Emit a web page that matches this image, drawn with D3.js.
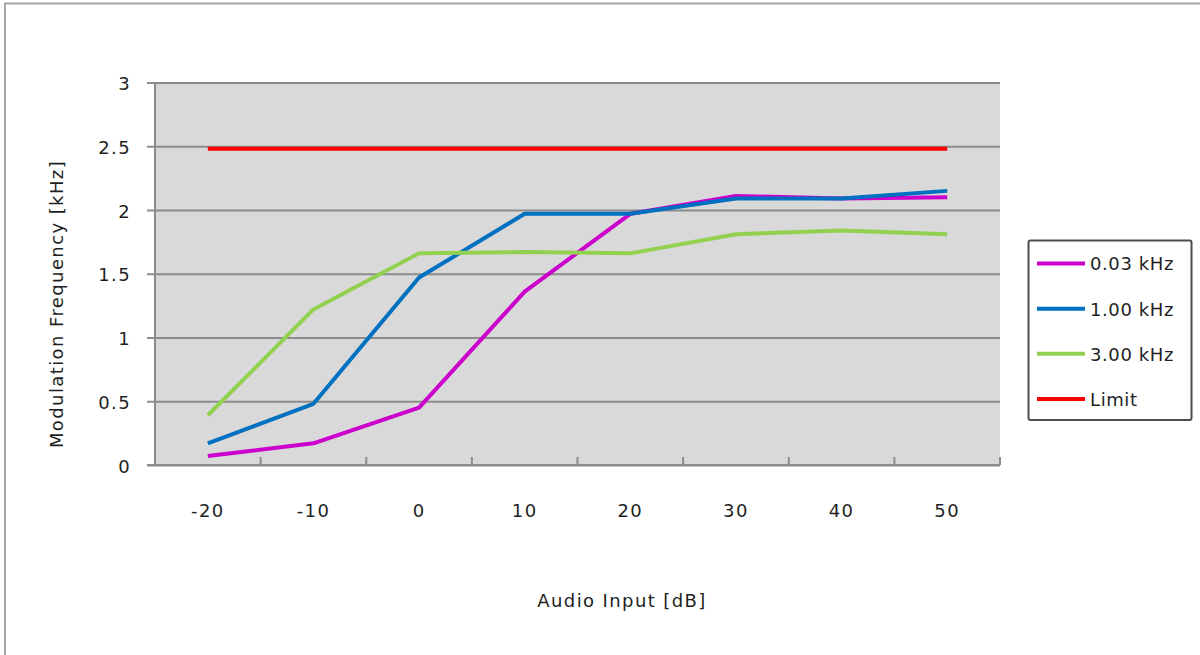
<!DOCTYPE html>
<html>
<head>
<meta charset="utf-8">
<script src="https://cdn.jsdelivr.net/npm/d3@7"></script>
<style>
  html, body { margin: 0; padding: 0; background: #ffffff; }
  svg { display: block; }
  text { font-family: "DejaVu Sans", Verdana, sans-serif; fill: #1f1f1f; }
</style>
</head>
<body>
<svg id="chart" width="1200" height="655"></svg>
<script>
// Audio input levels (dB) along the x axis
const categories = [-20, -10, 0, 10, 20, 30, 40, 50];

// Modulation frequency (kHz) per tone
const tone003 = [0.07, 0.17, 0.45, 1.36, 1.97, 2.11, 2.09, 2.10];
const tone100 = [0.17, 0.48, 1.47, 1.97, 1.97, 2.09, 2.09, 2.15];
const tone300 = [0.39, 1.22, 1.66, 1.67, 1.66, 1.81, 1.84, 1.81];
const limit   = [2.48, 2.48, 2.48, 2.48, 2.48, 2.48, 2.48, 2.48];

const yTicks = [0, 0.5, 1, 1.5, 2, 2.5, 3];

const series = [
  { name: "0.03 kHz", values: tone003, color: "#cc00cc" },
  { name: "1.00 kHz", values: tone100, color: "#0070c0" },
  { name: "3.00 kHz", values: tone300, color: "#92d050" },
  { name: "Limit",    values: limit,   color: "#ff0000" }
];

const svg = d3.select("#chart");
const plot = { left: 155, right: 1000, top: 82.5, bottom: 465 };
const FS = "18px";
const LS = "1.4px";

// outer chart frame
svg.append("rect")
  .attr("x", 5).attr("y", 3.5)
  .attr("width", 1210).attr("height", 700)
  .attr("fill", "#ffffff")
  .attr("stroke", "#a6a6a6").attr("stroke-width", 2);

const x = d3.scaleBand()
  .domain(categories)
  .range([plot.left, plot.right])
  .paddingInner(0).paddingOuter(0);

const y = d3.scaleLinear()
  .domain([0, 3])
  .range([plot.bottom, plot.top]);

// plot background
svg.append("rect")
  .attr("x", plot.left).attr("y", plot.top)
  .attr("width", plot.right - plot.left)
  .attr("height", plot.bottom - plot.top)
  .attr("fill", "#d9d9d9");

// horizontal gridlines, extending left as tick marks
const grid = svg.append("g")
  .attr("transform", `translate(${plot.left - 8},0)`)
  .call(d3.axisRight(y).tickValues(yTicks)
    .tickSize(plot.right - plot.left + 8).tickFormat(""));
grid.select(".domain").remove();
grid.selectAll(".tick line")
  .attr("stroke", "#8c8c8c").attr("stroke-width", 2);

// y-axis labels
const yAxis = svg.append("g")
  .attr("transform", `translate(${plot.left},0)`)
  .call(d3.axisLeft(y).tickValues(yTicks).tickSize(0).tickPadding(24)
    .tickFormat(d3.format("")));
yAxis.select(".domain").remove();
yAxis.selectAll("text")
  .style("font-size", FS).style("letter-spacing", LS)
  .attr("fill", "#1f1f1f").attr("dy", "0.4em");

// left axis line
svg.append("line")
  .attr("x1", plot.left).attr("x2", plot.left)
  .attr("y1", plot.top).attr("y2", plot.bottom)
  .attr("stroke", "#8c8c8c").attr("stroke-width", 2);

// x-axis labels
const xAxis = svg.append("g")
  .attr("transform", `translate(0,${plot.bottom})`)
  .call(d3.axisBottom(x).tickSize(0).tickPadding(39));
xAxis.select(".domain").remove();
xAxis.selectAll("text")
  .style("font-size", FS).style("letter-spacing", LS)
  .attr("fill", "#1f1f1f");

// x-axis line and category boundary ticks
svg.append("line")
  .attr("x1", plot.left - 8).attr("x2", plot.right)
  .attr("y1", plot.bottom).attr("y2", plot.bottom)
  .attr("stroke", "#8c8c8c").attr("stroke-width", 2);
const bounds = categories.slice(1).map(c => x(c)).concat([x.range()[1]]);
svg.append("g").selectAll("line")
  .data(bounds)
  .join("line")
  .attr("x1", d => d).attr("x2", d => d)
  .attr("y1", plot.bottom).attr("y2", plot.bottom - 8)
  .attr("stroke", "#8c8c8c").attr("stroke-width", 2);

// data lines
const line = d3.line()
  .x((d, i) => x(categories[i]) + x.bandwidth() / 2)
  .y(d => y(d));

svg.append("g").selectAll("path")
  .data(series)
  .join("path")
  .attr("d", s => line(s.values))
  .attr("fill", "none")
  .attr("stroke", s => s.color)
  .attr("stroke-width", 4)
  .attr("stroke-linejoin", "round");

// axis titles
svg.append("text")
  .attr("x", 622).attr("y", 607)
  .attr("text-anchor", "middle")
  .style("font-size", FS).style("letter-spacing", LS)
  .text("Audio Input [dB]");

svg.append("text")
  .attr("transform", "translate(63,304) rotate(-90)")
  .attr("text-anchor", "middle")
  .style("font-size", FS).style("letter-spacing", LS)
  .text("Modulation Frequency [kHz]");

// legend
const legend = svg.append("g");
legend.append("rect")
  .attr("x", 1028.5).attr("y", 240.5)
  .attr("width", 163).attr("height", 179.5)
  .attr("rx", 2)
  .attr("fill", "#ffffff")
  .attr("stroke", "#4d4d4d").attr("stroke-width", 2);

const ly = d3.scalePoint()
  .domain(series.map(s => s.name))
  .range([263.5, 399]);

const items = legend.selectAll("g.item")
  .data(series)
  .join("g")
  .attr("class", "item")
  .attr("transform", s => `translate(0,${ly(s.name)})`);
items.append("line")
  .attr("x1", 1037).attr("x2", 1085)
  .attr("stroke", s => s.color).attr("stroke-width", 4);
items.append("text")
  .attr("x", 1090).attr("dy", "0.38em")
  .style("font-size", FS).style("letter-spacing", "0.6px")
  .text(s => s.name);
</script>
</body>
</html>
